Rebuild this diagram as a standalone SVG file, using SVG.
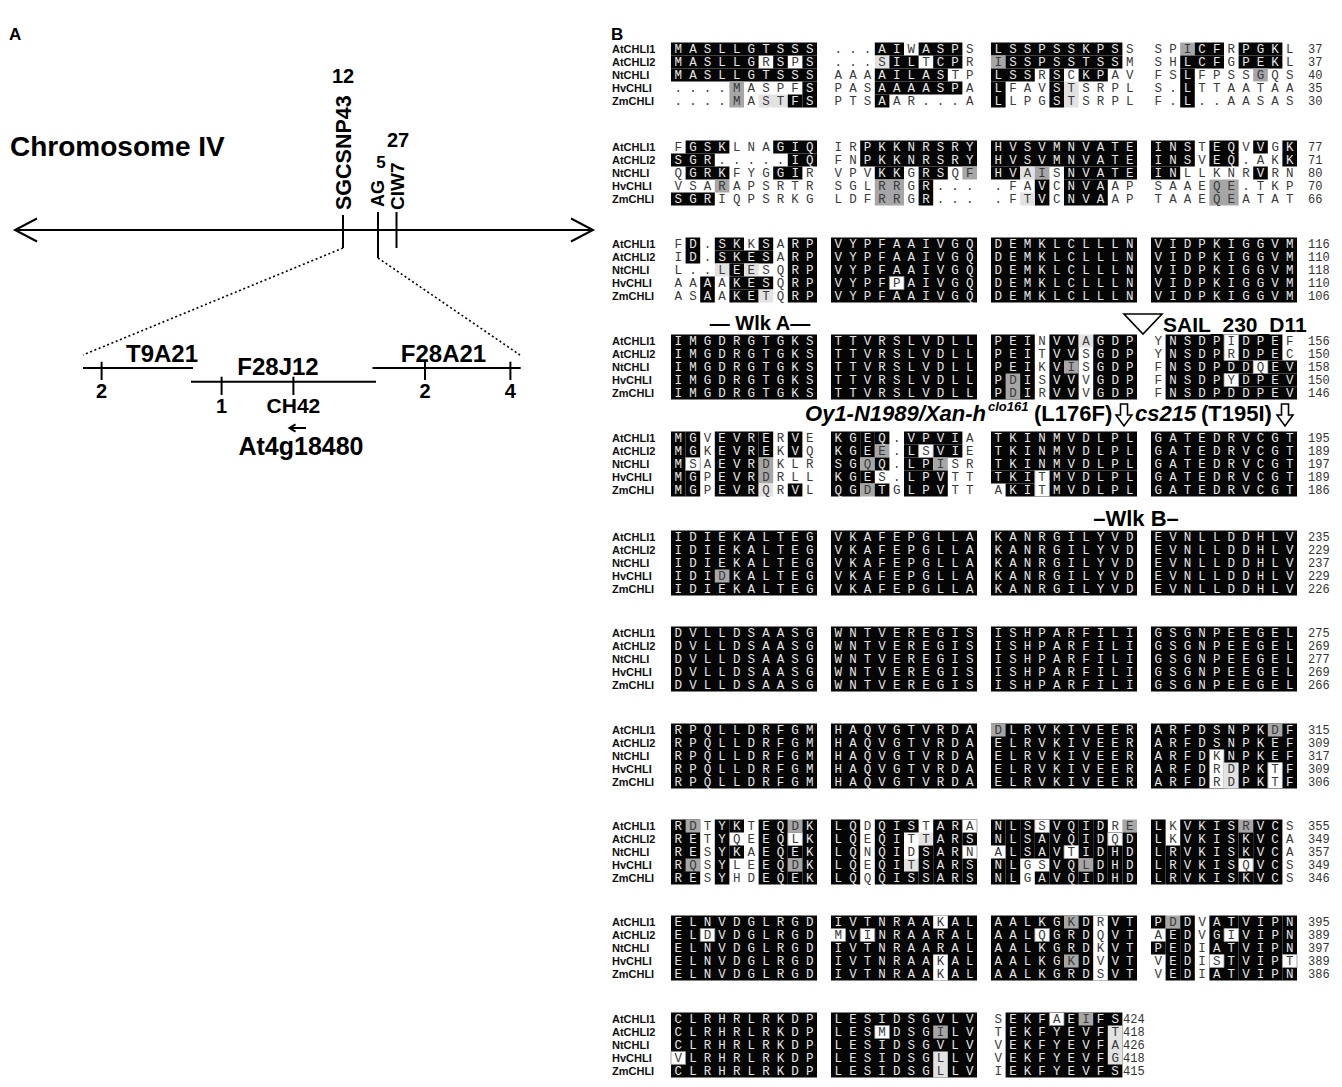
<svg xmlns="http://www.w3.org/2000/svg" width="1342" height="1087" viewBox="0 0 1342 1087">
<style>
.k{fill:#050505}
.g{fill:#a6a6a6}
.l{fill:#e2e2e2}
.wb{fill:#fff;stroke:#8a8a8a;stroke-width:0.8;vector-effect:non-scaling-stroke}
.s text{font-family:"Liberation Mono","DejaVu Sans Mono",monospace;font-size:12.5px;letter-spacing:7.1px;fill:#3a3a3a}
.s .w{fill:#e6e6e6}
.rl text{font-family:"Liberation Sans",Arial,sans-serif;font-weight:bold;font-size:11px;fill:#111}
.num text{font-family:"Liberation Mono","DejaVu Sans Mono",monospace;font-size:12px;fill:#333}
.ann{font-family:"Liberation Sans",Arial,sans-serif;font-weight:bold;fill:#000}
.ln{stroke:#000;stroke-width:2;fill:none}
.dot{stroke:#000;stroke-width:1.6;stroke-dasharray:2 2.6;fill:none}
</style>
<defs>
<g id="rl" class="rl"><text x="612" y="10.8">AtCHLI1</text><text x="612" y="23.8">AtCHLI2</text><text x="612" y="36.8">NtCHLI</text><text x="612" y="49.8">HvCHLI</text><text x="612" y="62.8">ZmCHLI</text></g>
<rect id="fb" class="k" width="146" height="65"/>
</defs>
<rect width="1342" height="1087" fill="#fff"/>

<g id="panelA">
<text class="ann" x="9" y="40" font-size="17">A</text>
<text class="ann" x="10" y="156" font-size="28">Chromosome IV</text>
<g id="chromosome">
<line class="ln" x1="15" y1="230" x2="593" y2="230"/>
<polyline class="ln" points="37,218.5 15,230 37,241.5"/>
<polyline class="ln" points="571,218.5 593,230 571,241.5"/>
</g>
<g id="m-sgcsnp43"><line class="ln" x1="343" y1="215" x2="343" y2="248"/><text class="ann" font-size="21.5" transform="translate(351,210) rotate(-90)">SGCSNP43</text><text class="ann" font-size="20" x="343" y="83" text-anchor="middle">12</text></g>
<g id="m-ag"><line class="ln" x1="378" y1="212" x2="378" y2="258"/><text class="ann" font-size="18" transform="translate(384,207) rotate(-90)">AG</text><text class="ann" font-size="17" x="381" y="168" text-anchor="middle">5</text></g>
<g id="m-ciw7"><line class="ln" x1="396.5" y1="212" x2="396.5" y2="248"/><text class="ann" font-size="19" transform="translate(404,210) rotate(-90)">CIW7</text><text class="ann" font-size="20" x="398" y="147" text-anchor="middle">27</text></g>
<g id="zoom-lines"><line class="dot" x1="343" y1="248" x2="83" y2="355"/><line class="dot" x1="378" y1="258" x2="520" y2="355"/></g>
<g id="T9A21"><line class="ln" x1="83" y1="368" x2="193" y2="368"/><line class="ln" x1="101.6" y1="361.7" x2="101.6" y2="380"/><text class="ann" font-size="24" x="126" y="361.7">T9A21</text><text class="ann" font-size="20" x="101.6" y="398" text-anchor="middle">2</text></g>
<g id="F28J12"><line class="ln" x1="191" y1="381.7" x2="376" y2="381.7"/><line class="ln" x1="221.6" y1="376.7" x2="221.6" y2="395"/><line class="ln" x1="293.4" y1="376.7" x2="293.4" y2="395"/><text class="ann" font-size="24" x="278" y="375" text-anchor="middle">F28J12</text><text class="ann" font-size="20" x="221.6" y="413" text-anchor="middle">1</text><text class="ann" font-size="21" x="293.4" y="413" text-anchor="middle">CH42</text><path class="ln" stroke-width="1.6" d="M306,428 H290 M295.5,424.3 L289.5,428 L295.5,431.7"/><text class="ann" font-size="25" x="301" y="455" text-anchor="middle">At4g18480</text></g>
<g id="F28A21"><line class="ln" x1="372.5" y1="368" x2="520.7" y2="368"/><line class="ln" x1="425" y1="361.7" x2="425" y2="380"/><line class="ln" x1="510.4" y1="361.7" x2="510.4" y2="380"/><text class="ann" font-size="24" x="443.5" y="361.7" text-anchor="middle">F28A21</text><text class="ann" font-size="20" x="425" y="398" text-anchor="middle">2</text><text class="ann" font-size="20" x="510.4" y="398" text-anchor="middle">4</text></g>
</g>

<g id="panelB">
<text class="ann" x="611" y="40" font-size="17">B</text>

<g id="block1">
<use href="#rl" y="42.5"/>
<g class="s" transform="translate(671,42.5)"><g transform="scale(14.6,13)"><rect class="k" x="0" y="0" width="10" height="1"/><rect class="k" x="0" y="1" width="6" height="1"/><rect class="k" x="7" y="1" width="1" height="1"/><rect class="k" x="9" y="1" width="1" height="1"/><rect class="k" x="0" y="2" width="10" height="1"/><rect class="g" x="4" y="3" width="1" height="2"/><rect class="k" x="9" y="3" width="1" height="2"/><rect class="l" x="6" y="4" width="2" height="1"/><rect class="k" x="8" y="4" width="1" height="1"/></g>
<text x="3.55" y="10.6" class="w">MASLLGTSSS</text>
<text x="3.55" y="23.6"><tspan class="w">MASLLG</tspan>R<tspan class="w">S</tspan>P<tspan class="w">S</tspan></text>
<text x="3.55" y="36.6" class="w">MASLLGTSSS</text>
<text x="3.55" y="49.6">....MASPF<tspan class="w">S</tspan></text>
<text x="3.55" y="62.6">....MAST<tspan class="w">FS</tspan></text></g>
<g class="s" transform="translate(831,42.5)"><g transform="scale(14.6,13)"><rect class="k" x="3" y="0" width="2" height="1"/><rect class="k" x="6" y="0" width="3" height="1"/><rect class="l" x="3" y="1" width="1" height="1"/><rect class="k" x="4" y="1" width="2" height="1"/><rect class="k" x="7" y="1" width="2" height="1"/><rect class="k" x="3" y="2" width="5" height="1"/><rect class="k" x="3" y="3" width="6" height="1"/><rect class="k" x="3" y="4" width="1" height="1"/></g>
<text x="3.55" y="10.6">...<tspan class="w">AI</tspan>W<tspan class="w">ASP</tspan>S</text>
<text x="3.55" y="23.6">...S<tspan class="w">IL</tspan>T<tspan class="w">CP</tspan>R</text>
<text x="3.55" y="36.6">AAA<tspan class="w">AILAS</tspan>TP</text>
<text x="3.55" y="49.6">PAS<tspan class="w">AAAASP</tspan>A</text>
<text x="3.55" y="62.6">PTS<tspan class="w">A</tspan>AR...A</text></g>
<g class="s" transform="translate(991,42.5)"><g transform="scale(14.6,13)"><rect class="k" x="0" y="0" width="9" height="1"/><rect class="g" x="0" y="1" width="1" height="1"/><rect class="k" x="1" y="1" width="8" height="1"/><rect class="k" x="0" y="2" width="3" height="1"/><rect class="k" x="4" y="2" width="1" height="1"/><rect class="k" x="6" y="2" width="2" height="1"/><rect class="k" x="0" y="3" width="1" height="2"/><rect class="k" x="4" y="3" width="1" height="2"/><rect class="l" x="5" y="3" width="1" height="2"/></g>
<text x="3.55" y="10.6"><tspan class="w">LSSPSSKPS</tspan>S</text>
<text x="3.55" y="23.6">I<tspan class="w">SSPSSTSS</tspan>M</text>
<text x="3.55" y="36.6"><tspan class="w">LSS</tspan>R<tspan class="w">S</tspan>C<tspan class="w">KP</tspan>AV</text>
<text x="3.55" y="49.6"><tspan class="w">L</tspan>FAV<tspan class="w">S</tspan>TSRPL</text>
<text x="3.55" y="62.6"><tspan class="w">L</tspan>LPG<tspan class="w">S</tspan>TSRPL</text></g>
<g class="s" transform="translate(1151,42.5)"><g transform="scale(14.6,13)"><rect class="g" x="2" y="0" width="1" height="1"/><rect class="k" x="3" y="0" width="2" height="1"/><rect class="k" x="6" y="0" width="3" height="1"/><rect class="k" x="2" y="1" width="3" height="1"/><rect class="k" x="6" y="1" width="3" height="1"/><rect class="k" x="2" y="2" width="1" height="3"/><rect class="g" x="7" y="2" width="1" height="1"/></g>
<text x="3.55" y="10.6">SPI<tspan class="w">CF</tspan>R<tspan class="w">PGK</tspan>L</text>
<text x="3.55" y="23.6">SH<tspan class="w">LCF</tspan>G<tspan class="w">PEK</tspan>L</text>
<text x="3.55" y="36.6">FS<tspan class="w">L</tspan>FPSSGQS</text>
<text x="3.55" y="49.6">S.<tspan class="w">L</tspan>TTAATAA</text>
<text x="3.55" y="62.6">F.<tspan class="w">L</tspan>..AASAS</text></g>
<g class="num" transform="translate(0,42.5)"><text x="1308" y="10.6">37</text><text x="1308" y="23.6">37</text><text x="1308" y="36.6">40</text><text x="1308" y="49.6">35</text><text x="1308" y="62.6">30</text></g>
</g>

<g id="block2">
<use href="#rl" y="140.5"/>
<g class="s" transform="translate(671,140.5)"><g transform="scale(14.6,13)"><rect class="k" x="1" y="0" width="3" height="1"/><rect class="k" x="7" y="0" width="3" height="1"/><rect class="k" x="0" y="1" width="3" height="1"/><rect class="k" x="8" y="1" width="2" height="1"/><rect class="k" x="1" y="2" width="3" height="1"/><rect class="k" x="7" y="2" width="2" height="1"/><rect class="g" x="3" y="3" width="1" height="1"/><rect class="k" x="0" y="4" width="3" height="1"/></g>
<text x="3.55" y="10.6">F<tspan class="w">GSK</tspan>LNA<tspan class="w">GIQ</tspan></text>
<text x="3.55" y="23.6"><tspan class="w">SGR</tspan>.....<tspan class="w">IQ</tspan></text>
<text x="3.55" y="36.6">Q<tspan class="w">GRK</tspan>FYG<tspan class="w">GI</tspan>R</text>
<text x="3.55" y="49.6">VSARAPSRTR</text>
<text x="3.55" y="62.6"><tspan class="w">SGR</tspan>IQPSRKG</text></g>
<g class="s" transform="translate(831,140.5)"><g transform="scale(14.6,13)"><rect class="k" x="2" y="0" width="8" height="2"/><rect class="k" x="3" y="2" width="2" height="1"/><rect class="k" x="6" y="2" width="2" height="1"/><rect class="g" x="9" y="2" width="1" height="1"/><rect class="g" x="3" y="3" width="2" height="2"/><rect class="k" x="6" y="3" width="1" height="2"/></g>
<text x="3.55" y="10.6">IR<tspan class="w">PKKNRSRY</tspan></text>
<text x="3.55" y="23.6">FN<tspan class="w">PKKNRSRY</tspan></text>
<text x="3.55" y="36.6">VPV<tspan class="w">KK</tspan>G<tspan class="w">RS</tspan>QF</text>
<text x="3.55" y="49.6">SGLRRG<tspan class="w">R</tspan>...</text>
<text x="3.55" y="62.6">LDFRRG<tspan class="w">R</tspan>...</text></g>
<g class="s" transform="translate(991,140.5)"><g transform="scale(14.6,13)"><rect class="k" x="0" y="0" width="10" height="2"/><rect class="k" x="0" y="2" width="2" height="1"/><rect class="l" x="2" y="2" width="1" height="1"/><rect class="g" x="3" y="2" width="1" height="1"/><rect class="k" x="5" y="2" width="5" height="1"/><rect class="k" x="3" y="3" width="1" height="2"/><rect class="k" x="5" y="3" width="3" height="2"/><rect class="l" x="2" y="4" width="1" height="1"/></g>
<text x="3.55" y="10.6" class="w">HVSVMNVATE</text>
<text x="3.55" y="23.6" class="w">HVSVMNVATE</text>
<text x="3.55" y="36.6"><tspan class="w">HV</tspan>AIS<tspan class="w">NVATE</tspan></text>
<text x="3.55" y="49.6">.FA<tspan class="w">V</tspan>C<tspan class="w">NVA</tspan>AP</text>
<text x="3.55" y="62.6">.FT<tspan class="w">V</tspan>C<tspan class="w">NVA</tspan>AP</text></g>
<g class="s" transform="translate(1151,140.5)"><g transform="scale(14.6,13)"><rect class="k" x="0" y="0" width="3" height="2"/><rect class="k" x="4" y="0" width="2" height="2"/><rect class="k" x="7" y="0" width="1" height="1"/><rect class="k" x="9" y="0" width="1" height="2"/><rect class="k" x="0" y="2" width="2" height="1"/><rect class="k" x="7" y="2" width="1" height="1"/><rect class="g" x="4" y="3" width="2" height="2"/></g>
<text x="3.55" y="10.6"><tspan class="w">INS</tspan>T<tspan class="w">EQ</tspan>V<tspan class="w">V</tspan>G<tspan class="w">K</tspan></text>
<text x="3.55" y="23.6"><tspan class="w">INS</tspan>V<tspan class="w">EQ</tspan>.AK<tspan class="w">K</tspan></text>
<text x="3.55" y="36.6"><tspan class="w">IN</tspan>LLKNR<tspan class="w">V</tspan>RN</text>
<text x="3.55" y="49.6">SAAEQE.TKP</text>
<text x="3.55" y="62.6">TAAEQEATAT</text></g>
<g class="num" transform="translate(0,140.5)"><text x="1308" y="10.6">77</text><text x="1308" y="23.6">71</text><text x="1308" y="36.6">80</text><text x="1308" y="49.6">70</text><text x="1308" y="62.6">66</text></g>
</g>

<g id="block3">
<use href="#rl" y="237.5"/>
<g class="s" transform="translate(671,237.5)"><g transform="scale(14.6,13)"><rect class="k" x="1" y="0" width="1" height="2"/><rect class="k" x="3" y="0" width="2" height="1"/><rect class="k" x="6" y="0" width="1" height="1"/><rect class="k" x="3" y="1" width="4" height="1"/><rect class="k" x="8" y="0" width="2" height="5"/><rect class="l" x="3" y="2" width="1" height="1"/><rect class="k" x="4" y="2" width="1" height="1"/><rect class="l" x="5" y="2" width="1" height="1"/><rect class="k" x="2" y="3" width="1" height="2"/><rect class="k" x="4" y="3" width="3" height="1"/><rect class="k" x="4" y="4" width="2" height="1"/><rect class="l" x="6" y="4" width="1" height="1"/></g>
<text x="3.55" y="10.6">F<tspan class="w">D</tspan>.<tspan class="w">SK</tspan>K<tspan class="w">S</tspan>A<tspan class="w">RP</tspan></text>
<text x="3.55" y="23.6">I<tspan class="w">D</tspan>.<tspan class="w">SKES</tspan>A<tspan class="w">RP</tspan></text>
<text x="3.55" y="36.6">L..L<tspan class="w">E</tspan>ESQ<tspan class="w">RP</tspan></text>
<text x="3.55" y="49.6">AA<tspan class="w">A</tspan>A<tspan class="w">KES</tspan>Q<tspan class="w">RP</tspan></text>
<text x="3.55" y="62.6">AS<tspan class="w">A</tspan>A<tspan class="w">KE</tspan>TQ<tspan class="w">RP</tspan></text></g>
<g class="s" transform="translate(831,237.5)"><use href="#fb"/><g transform="scale(14.6,13)"><rect class="wb" x="4" y="3" width="1" height="1"/></g>
<text x="3.55" y="10.6" class="w">VYPFAAIVGQ</text>
<text x="3.55" y="23.6" class="w">VYPFAAIVGQ</text>
<text x="3.55" y="36.6" class="w">VYPFAAIVGQ</text>
<text x="3.55" y="49.6"><tspan class="w">VYPF</tspan>P<tspan class="w">AIVGQ</tspan></text>
<text x="3.55" y="62.6" class="w">VYPFAAIVGQ</text></g>
<g class="s" transform="translate(991,237.5)"><use href="#fb"/>
<text x="3.55" y="10.6" class="w">DEMKLCLLLN</text>
<text x="3.55" y="23.6" class="w">DEMKLCLLLN</text>
<text x="3.55" y="36.6" class="w">DEMKLCLLLN</text>
<text x="3.55" y="49.6" class="w">DEMKLCLLLN</text>
<text x="3.55" y="62.6" class="w">DEMKLCLLLN</text></g>
<g class="s" transform="translate(1151,237.5)"><use href="#fb"/>
<text x="3.55" y="10.6" class="w">VIDPKIGGVM</text>
<text x="3.55" y="23.6" class="w">VIDPKIGGVM</text>
<text x="3.55" y="36.6" class="w">VIDPKIGGVM</text>
<text x="3.55" y="49.6" class="w">VIDPKIGGVM</text>
<text x="3.55" y="62.6" class="w">VIDPKIGGVM</text></g>
<g class="num" transform="translate(0,237.5)"><text x="1308" y="10.6">116</text><text x="1308" y="23.6">110</text><text x="1308" y="36.6">118</text><text x="1308" y="49.6">110</text><text x="1308" y="62.6">106</text></g>
</g>

<g id="block4">
<text class="ann" font-size="20" x="760" y="330" text-anchor="middle">— Wlk A—</text>
<g id="sail"><polygon points="1124,314 1162,314 1143,334" fill="#fff" stroke="#000" stroke-width="1.6"/><text class="ann" font-size="21" x="1163" y="332">SAIL_230_D11</text></g>
<use href="#rl" y="334.5"/>
<g class="s" transform="translate(671,334.5)"><use href="#fb"/>
<text x="3.55" y="10.6" class="w">IMGDRGTGKS</text>
<text x="3.55" y="23.6" class="w">IMGDRGTGKS</text>
<text x="3.55" y="36.6" class="w">IMGDRGTGKS</text>
<text x="3.55" y="49.6" class="w">IMGDRGTGKS</text>
<text x="3.55" y="62.6" class="w">IMGDRGTGKS</text></g>
<g class="s" transform="translate(831,334.5)"><use href="#fb"/>
<text x="3.55" y="10.6" class="w">TTVRSLVDLL</text>
<text x="3.55" y="23.6" class="w">TTVRSLVDLL</text>
<text x="3.55" y="36.6" class="w">TTVRSLVDLL</text>
<text x="3.55" y="49.6" class="w">TTVRSLVDLL</text>
<text x="3.55" y="62.6" class="w">TTVRSLVDLL</text></g>
<g class="s" transform="translate(991,334.5)"><g transform="scale(14.6,13)"><rect class="k" x="0" y="0" width="3" height="5"/><rect class="k" x="4" y="0" width="2" height="5"/><rect class="k" x="7" y="0" width="3" height="5"/><rect class="g" x="1" y="3" width="1" height="2"/><rect class="g" x="5" y="2" width="1" height="1"/><rect class="l" x="6" y="0" width="1" height="1"/></g>
<text x="3.55" y="10.6"><tspan class="w">PEI</tspan>N<tspan class="w">VV</tspan>A<tspan class="w">GDP</tspan></text>
<text x="3.55" y="23.6"><tspan class="w">PEI</tspan>T<tspan class="w">VV</tspan>S<tspan class="w">GDP</tspan></text>
<text x="3.55" y="36.6"><tspan class="w">PEI</tspan>K<tspan class="w">V</tspan>IS<tspan class="w">GDP</tspan></text>
<text x="3.55" y="49.6"><tspan class="w">P</tspan>D<tspan class="w">I</tspan>S<tspan class="w">VV</tspan>V<tspan class="w">GDP</tspan></text>
<text x="3.55" y="62.6"><tspan class="w">P</tspan>D<tspan class="w">I</tspan>R<tspan class="w">VV</tspan>V<tspan class="w">GDP</tspan></text></g>
<g class="s" transform="translate(1151,334.5)"><g transform="scale(14.6,13)"><rect class="k" x="1" y="0" width="4" height="5"/><rect class="k" x="6" y="0" width="3" height="2"/><rect class="k" x="5" y="2" width="2" height="1"/><rect class="k" x="8" y="2" width="2" height="1"/><rect class="k" x="6" y="3" width="4" height="1"/><rect class="k" x="5" y="4" width="5" height="1"/><rect class="wb" x="5" y="0" width="1" height="2"/><rect class="wb" x="7" y="2" width="1" height="1"/><rect class="wb" x="5" y="3" width="1" height="1"/></g>
<text x="3.55" y="10.6">Y<tspan class="w">NSDP</tspan>I<tspan class="w">DPE</tspan>F</text>
<text x="3.55" y="23.6">Y<tspan class="w">NSDP</tspan>R<tspan class="w">DPE</tspan>C</text>
<text x="3.55" y="36.6">F<tspan class="w">NSDPDD</tspan>Q<tspan class="w">EV</tspan></text>
<text x="3.55" y="49.6">F<tspan class="w">NSDP</tspan>Y<tspan class="w">DPEV</tspan></text>
<text x="3.55" y="62.6">F<tspan class="w">NSDPDDPEV</tspan></text></g>
<g class="num" transform="translate(0,334.5)"><text x="1308" y="10.6">156</text><text x="1308" y="23.6">150</text><text x="1308" y="36.6">158</text><text x="1308" y="49.6">150</text><text x="1308" y="62.6">146</text></g>
</g>

<g id="block5">
<g id="mutations">
<text class="ann" font-size="22" font-style="italic" x="986" y="421" text-anchor="end">Oy1-N1989/Xan-h</text>
<text class="ann" font-size="13" font-style="italic" x="988" y="411">clo161</text>
<text class="ann" font-size="22" x="1034" y="421">(L176F)</text>
<path d="M1120.5,404 h7 v11 h4.5 l-8,11 l-8,-11 h4.5 z" fill="#fff" stroke="#000" stroke-width="1.6"/>
<text class="ann" font-size="22" font-style="italic" x="1135" y="421">cs215</text>
<text class="ann" font-size="22" x="1201" y="421">(T195I)</text>
<path d="M1281.5,404 h7 v11 h4.5 l-8,11 l-8,-11 h4.5 z" fill="#fff" stroke="#000" stroke-width="1.6"/>
</g>
<use href="#rl" y="431.5"/>
<g class="s" transform="translate(671,431.5)"><g transform="scale(14.6,13)"><rect class="k" x="0" y="0" width="1" height="5"/><rect class="k" x="1" y="0" width="1" height="2"/><rect class="k" x="1" y="3" width="1" height="2"/><rect class="k" x="3" y="0" width="3" height="5"/><rect class="k" x="6" y="0" width="1" height="2"/><rect class="g" x="6" y="2" width="1" height="2"/><rect class="l" x="6" y="4" width="1" height="1"/><rect class="k" x="8" y="0" width="1" height="2"/><rect class="k" x="8" y="4" width="1" height="1"/><rect class="wb" x="1" y="2" width="1" height="1"/></g>
<text x="3.55" y="10.6"><tspan class="w">MG</tspan>V<tspan class="w">EVRE</tspan>R<tspan class="w">V</tspan>E</text>
<text x="3.55" y="23.6"><tspan class="w">MG</tspan>K<tspan class="w">EVRE</tspan>K<tspan class="w">V</tspan>Q</text>
<text x="3.55" y="36.6"><tspan class="w">M</tspan>SA<tspan class="w">EVR</tspan>DKLR</text>
<text x="3.55" y="49.6"><tspan class="w">MG</tspan>P<tspan class="w">EVR</tspan>DRLL</text>
<text x="3.55" y="62.6"><tspan class="w">MG</tspan>P<tspan class="w">EVR</tspan>QR<tspan class="w">V</tspan>L</text></g>
<g class="s" transform="translate(831,431.5)"><g transform="scale(14.6,13)"><rect class="k" x="0" y="0" width="2" height="5"/><rect class="k" x="2" y="0" width="1" height="2"/><rect class="g" x="2" y="2" width="1" height="1"/><rect class="k" x="2" y="3" width="1" height="1"/><rect class="g" x="2" y="4" width="1" height="1"/><rect class="k" x="3" y="0" width="1" height="1"/><rect class="g" x="3" y="1" width="1" height="1"/><rect class="k" x="3" y="2" width="1" height="1"/><rect class="k" x="3" y="4" width="1" height="1"/><rect class="k" x="5" y="0" width="4" height="1"/><rect class="k" x="5" y="1" width="1" height="1"/><rect class="k" x="7" y="1" width="2" height="1"/><rect class="k" x="5" y="2" width="2" height="1"/><rect class="g" x="7" y="2" width="1" height="1"/><rect class="k" x="5" y="3" width="3" height="2"/><rect class="wb" x="6" y="1" width="1" height="1"/></g>
<text x="3.55" y="10.6"><tspan class="w">KGEQ</tspan>.<tspan class="w">VPVI</tspan>A</text>
<text x="3.55" y="23.6"><tspan class="w">KGE</tspan>E.<tspan class="w">L</tspan>S<tspan class="w">VI</tspan>E</text>
<text x="3.55" y="36.6"><tspan class="w">SG</tspan>Q<tspan class="w">Q</tspan>.<tspan class="w">LP</tspan>ISR</text>
<text x="3.55" y="49.6"><tspan class="w">KGE</tspan>S.<tspan class="w">LPV</tspan>TT</text>
<text x="3.55" y="62.6"><tspan class="w">QG</tspan>D<tspan class="w">T</tspan>G<tspan class="w">LPV</tspan>TT</text></g>
<g class="s" transform="translate(991,431.5)"><g transform="scale(14.6,13)"><rect class="k" x="0" y="0" width="10" height="3"/><rect class="k" x="0" y="3" width="3" height="1"/><rect class="k" x="1" y="4" width="2" height="1"/><rect class="k" x="4" y="3" width="6" height="2"/><rect class="wb" x="3" y="3" width="1" height="2"/></g>
<text x="3.55" y="10.6" class="w">TKINMVDLPL</text>
<text x="3.55" y="23.6" class="w">TKINMVDLPL</text>
<text x="3.55" y="36.6" class="w">TKINMVDLPL</text>
<text x="3.55" y="49.6"><tspan class="w">TKI</tspan>T<tspan class="w">MVDLPL</tspan></text>
<text x="3.55" y="62.6">A<tspan class="w">KI</tspan>T<tspan class="w">MVDLPL</tspan></text></g>
<g class="s" transform="translate(1151,431.5)"><use href="#fb"/>
<text x="3.55" y="10.6" class="w">GATEDRVCGT</text>
<text x="3.55" y="23.6" class="w">GATEDRVCGT</text>
<text x="3.55" y="36.6" class="w">GATEDRVCGT</text>
<text x="3.55" y="49.6" class="w">GATEDRVCGT</text>
<text x="3.55" y="62.6" class="w">GATEDRVCGT</text></g>
<g class="num" transform="translate(0,431.5)"><text x="1308" y="10.6">195</text><text x="1308" y="23.6">189</text><text x="1308" y="36.6">197</text><text x="1308" y="49.6">189</text><text x="1308" y="62.6">186</text></g>
</g>

<g id="block6">
<text class="ann" font-size="22" x="1136" y="526" text-anchor="middle">–Wlk B–</text>
<use href="#rl" y="530.5"/>
<g class="s" transform="translate(671,530.5)"><use href="#fb"/><g transform="scale(14.6,13)"><rect class="g" x="3" y="3" width="1" height="1"/></g>
<text x="3.55" y="10.6" class="w">IDIEKALTEG</text>
<text x="3.55" y="23.6" class="w">IDIEKALTEG</text>
<text x="3.55" y="36.6" class="w">IDIEKALTEG</text>
<text x="3.55" y="49.6"><tspan class="w">IDI</tspan>D<tspan class="w">KALTEG</tspan></text>
<text x="3.55" y="62.6" class="w">IDIEKALTEG</text></g>
<g class="s" transform="translate(831,530.5)"><use href="#fb"/>
<text x="3.55" y="10.6" class="w">VKAFEPGLLA</text>
<text x="3.55" y="23.6" class="w">VKAFEPGLLA</text>
<text x="3.55" y="36.6" class="w">VKAFEPGLLA</text>
<text x="3.55" y="49.6" class="w">VKAFEPGLLA</text>
<text x="3.55" y="62.6" class="w">VKAFEPGLLA</text></g>
<g class="s" transform="translate(991,530.5)"><use href="#fb"/>
<text x="3.55" y="10.6" class="w">KANRGILYVD</text>
<text x="3.55" y="23.6" class="w">KANRGILYVD</text>
<text x="3.55" y="36.6" class="w">KANRGILYVD</text>
<text x="3.55" y="49.6" class="w">KANRGILYVD</text>
<text x="3.55" y="62.6" class="w">KANRGILYVD</text></g>
<g class="s" transform="translate(1151,530.5)"><use href="#fb"/>
<text x="3.55" y="10.6" class="w">EVNLLDDHLV</text>
<text x="3.55" y="23.6" class="w">EVNLLDDHLV</text>
<text x="3.55" y="36.6" class="w">EVNLLDDHLV</text>
<text x="3.55" y="49.6" class="w">EVNLLDDHLV</text>
<text x="3.55" y="62.6" class="w">EVNLLDDHLV</text></g>
<g class="num" transform="translate(0,530.5)"><text x="1308" y="10.6">235</text><text x="1308" y="23.6">229</text><text x="1308" y="36.6">237</text><text x="1308" y="49.6">229</text><text x="1308" y="62.6">226</text></g>
</g>

<g id="block7">
<use href="#rl" y="626.5"/>
<g class="s" transform="translate(671,626.5)"><use href="#fb"/>
<text x="3.55" y="10.6" class="w">DVLLDSAASG</text>
<text x="3.55" y="23.6" class="w">DVLLDSAASG</text>
<text x="3.55" y="36.6" class="w">DVLLDSAASG</text>
<text x="3.55" y="49.6" class="w">DVLLDSAASG</text>
<text x="3.55" y="62.6" class="w">DVLLDSAASG</text></g>
<g class="s" transform="translate(831,626.5)"><use href="#fb"/>
<text x="3.55" y="10.6" class="w">WNTVEREGIS</text>
<text x="3.55" y="23.6" class="w">WNTVEREGIS</text>
<text x="3.55" y="36.6" class="w">WNTVEREGIS</text>
<text x="3.55" y="49.6" class="w">WNTVEREGIS</text>
<text x="3.55" y="62.6" class="w">WNTVEREGIS</text></g>
<g class="s" transform="translate(991,626.5)"><use href="#fb"/>
<text x="3.55" y="10.6" class="w">ISHPARFILI</text>
<text x="3.55" y="23.6" class="w">ISHPARFILI</text>
<text x="3.55" y="36.6" class="w">ISHPARFILI</text>
<text x="3.55" y="49.6" class="w">ISHPARFILI</text>
<text x="3.55" y="62.6" class="w">ISHPARFILI</text></g>
<g class="s" transform="translate(1151,626.5)"><use href="#fb"/>
<text x="3.55" y="10.6" class="w">GSGNPEEGEL</text>
<text x="3.55" y="23.6" class="w">GSGNPEEGEL</text>
<text x="3.55" y="36.6" class="w">GSGNPEEGEL</text>
<text x="3.55" y="49.6" class="w">GSGNPEEGEL</text>
<text x="3.55" y="62.6" class="w">GSGNPEEGEL</text></g>
<g class="num" transform="translate(0,626.5)"><text x="1308" y="10.6">275</text><text x="1308" y="23.6">269</text><text x="1308" y="36.6">277</text><text x="1308" y="49.6">269</text><text x="1308" y="62.6">266</text></g>
</g>

<g id="block8">
<use href="#rl" y="723.5"/>
<g class="s" transform="translate(671,723.5)"><use href="#fb"/>
<text x="3.55" y="10.6" class="w">RPQLLDRFGM</text>
<text x="3.55" y="23.6" class="w">RPQLLDRFGM</text>
<text x="3.55" y="36.6" class="w">RPQLLDRFGM</text>
<text x="3.55" y="49.6" class="w">RPQLLDRFGM</text>
<text x="3.55" y="62.6" class="w">RPQLLDRFGM</text></g>
<g class="s" transform="translate(831,723.5)"><use href="#fb"/>
<text x="3.55" y="10.6" class="w">HAQVGTVRDA</text>
<text x="3.55" y="23.6" class="w">HAQVGTVRDA</text>
<text x="3.55" y="36.6" class="w">HAQVGTVRDA</text>
<text x="3.55" y="49.6" class="w">HAQVGTVRDA</text>
<text x="3.55" y="62.6" class="w">HAQVGTVRDA</text></g>
<g class="s" transform="translate(991,723.5)"><use href="#fb"/><g transform="scale(14.6,13)"><rect class="g" x="0" y="0" width="1" height="1"/></g>
<text x="3.55" y="10.6">D<tspan class="w">LRVKIVEER</tspan></text>
<text x="3.55" y="23.6" class="w">ELRVKIVEER</text>
<text x="3.55" y="36.6" class="w">ELRVKIVEER</text>
<text x="3.55" y="49.6" class="w">ELRVKIVEER</text>
<text x="3.55" y="62.6" class="w">ELRVKIVEER</text></g>
<g class="s" transform="translate(1151,723.5)"><use href="#fb"/><g transform="scale(14.6,13)"><rect class="g" x="8" y="0" width="1" height="1"/><rect class="wb" x="4" y="2" width="1" height="3"/><rect class="l" x="5" y="3" width="1" height="2"/><rect class="wb" x="8" y="3" width="1" height="2"/></g>
<text x="3.55" y="10.6"><tspan class="w">ARFDSNPK</tspan>D<tspan class="w">F</tspan></text>
<text x="3.55" y="23.6" class="w">ARFDSNPKEF</text>
<text x="3.55" y="36.6"><tspan class="w">ARFD</tspan>K<tspan class="w">NPKEF</tspan></text>
<text x="3.55" y="49.6"><tspan class="w">ARFD</tspan>RD<tspan class="w">PK</tspan>T<tspan class="w">F</tspan></text>
<text x="3.55" y="62.6"><tspan class="w">ARFD</tspan>RD<tspan class="w">PK</tspan>T<tspan class="w">F</tspan></text></g>
<g class="num" transform="translate(0,723.5)"><text x="1308" y="10.6">315</text><text x="1308" y="23.6">309</text><text x="1308" y="36.6">317</text><text x="1308" y="49.6">309</text><text x="1308" y="62.6">306</text></g>
</g>

<g id="block9">
<use href="#rl" y="819.5"/>
<g class="s" transform="translate(671,819.5)"><g transform="scale(14.6,13)"><rect class="k" x="0" y="0" width="2" height="5"/><rect class="g" x="1" y="0" width="1" height="1"/><rect class="g" x="1" y="3" width="1" height="1"/><rect class="k" x="3" y="0" width="1" height="5"/><rect class="k" x="4" y="0" width="1" height="1"/><rect class="k" x="4" y="2" width="1" height="1"/><rect class="k" x="6" y="0" width="2" height="5"/><rect class="g" x="8" y="0" width="1" height="1"/><rect class="k" x="8" y="2" width="1" height="1"/><rect class="g" x="8" y="3" width="1" height="1"/><rect class="k" x="8" y="4" width="1" height="1"/><rect class="k" x="9" y="0" width="1" height="5"/><rect class="wb" x="8" y="1" width="1" height="1"/></g>
<text x="3.55" y="10.6"><tspan class="w">R</tspan>DT<tspan class="w">YK</tspan>T<tspan class="w">EQ</tspan>D<tspan class="w">K</tspan></text>
<text x="3.55" y="23.6"><tspan class="w">RE</tspan>T<tspan class="w">Y</tspan>QE<tspan class="w">EQ</tspan>L<tspan class="w">K</tspan></text>
<text x="3.55" y="36.6"><tspan class="w">RE</tspan>S<tspan class="w">YK</tspan>A<tspan class="w">EQEK</tspan></text>
<text x="3.55" y="49.6"><tspan class="w">R</tspan>QS<tspan class="w">Y</tspan>LE<tspan class="w">EQ</tspan>D<tspan class="w">K</tspan></text>
<text x="3.55" y="62.6"><tspan class="w">RE</tspan>S<tspan class="w">Y</tspan>HD<tspan class="w">EQEK</tspan></text></g>
<g class="s" transform="translate(831,819.5)"><g transform="scale(14.6,13)"><rect class="k" x="0" y="0" width="2" height="5"/><rect class="k" x="3" y="0" width="2" height="5"/><rect class="k" x="5" y="0" width="1" height="1"/><rect class="l" x="5" y="3" width="1" height="1"/><rect class="k" x="5" y="4" width="1" height="1"/><rect class="l" x="6" y="1" width="1" height="1"/><rect class="k" x="6" y="2" width="1" height="3"/><rect class="k" x="7" y="0" width="2" height="5"/><rect class="k" x="9" y="1" width="1" height="1"/><rect class="k" x="9" y="3" width="1" height="2"/><rect class="wb" x="9" y="0" width="1" height="1"/><rect class="wb" x="9" y="2" width="1" height="1"/></g>
<text x="3.55" y="10.6"><tspan class="w">LQ</tspan>D<tspan class="w">QIS</tspan>T<tspan class="w">AR</tspan>A</text>
<text x="3.55" y="23.6"><tspan class="w">LQ</tspan>E<tspan class="w">QI</tspan>TT<tspan class="w">ARS</tspan></text>
<text x="3.55" y="36.6"><tspan class="w">LQ</tspan>N<tspan class="w">QI</tspan>D<tspan class="w">SAR</tspan>N</text>
<text x="3.55" y="49.6"><tspan class="w">LQ</tspan>E<tspan class="w">QI</tspan>T<tspan class="w">SARS</tspan></text>
<text x="3.55" y="62.6"><tspan class="w">LQ</tspan>Q<tspan class="w">QISSARS</tspan></text></g>
<g class="s" transform="translate(991,819.5)"><g transform="scale(14.6,13)"><rect class="k" x="0" y="0" width="1" height="2"/><rect class="k" x="0" y="3" width="1" height="2"/><rect class="k" x="1" y="0" width="1" height="5"/><rect class="k" x="2" y="0" width="1" height="3"/><rect class="k" x="3" y="1" width="1" height="2"/><rect class="k" x="3" y="4" width="1" height="1"/><rect class="k" x="4" y="0" width="1" height="5"/><rect class="k" x="5" y="0" width="1" height="2"/><rect class="k" x="5" y="3" width="1" height="2"/><rect class="k" x="6" y="0" width="1" height="3"/><rect class="g" x="6" y="3" width="1" height="1"/><rect class="k" x="6" y="4" width="1" height="1"/><rect class="k" x="7" y="0" width="1" height="5"/><rect class="k" x="8" y="2" width="1" height="3"/><rect class="g" x="9" y="0" width="1" height="1"/><rect class="k" x="9" y="1" width="1" height="4"/><rect class="wb" x="3" y="0" width="1" height="1"/><rect class="wb" x="5" y="2" width="1" height="1"/><rect class="wb" x="8" y="1" width="1" height="1"/></g>
<text x="3.55" y="10.6"><tspan class="w">NLS</tspan>S<tspan class="w">VQID</tspan>RE</text>
<text x="3.55" y="23.6"><tspan class="w">NLSAVQID</tspan>Q<tspan class="w">D</tspan></text>
<text x="3.55" y="36.6">A<tspan class="w">LSAV</tspan>T<tspan class="w">IDHD</tspan></text>
<text x="3.55" y="49.6"><tspan class="w">NL</tspan>GS<tspan class="w">VQ</tspan>L<tspan class="w">DHD</tspan></text>
<text x="3.55" y="62.6"><tspan class="w">NL</tspan>G<tspan class="w">AVQIDHD</tspan></text></g>
<g class="s" transform="translate(1151,819.5)"><g transform="scale(14.6,13)"><rect class="k" x="0" y="0" width="1" height="5"/><rect class="k" x="1" y="2" width="1" height="3"/><rect class="k" x="2" y="0" width="4" height="5"/><rect class="g" x="6" y="0" width="1" height="1"/><rect class="k" x="6" y="1" width="1" height="2"/><rect class="k" x="6" y="4" width="1" height="1"/><rect class="k" x="7" y="0" width="2" height="5"/><rect class="wb" x="6" y="3" width="1" height="1"/></g>
<text x="3.55" y="10.6"><tspan class="w">L</tspan>K<tspan class="w">VKIS</tspan>R<tspan class="w">VC</tspan>S</text>
<text x="3.55" y="23.6"><tspan class="w">L</tspan>K<tspan class="w">VKISKVC</tspan>A</text>
<text x="3.55" y="36.6"><tspan class="w">LRVKISKVC</tspan>A</text>
<text x="3.55" y="49.6"><tspan class="w">LRVKIS</tspan>Q<tspan class="w">VC</tspan>S</text>
<text x="3.55" y="62.6"><tspan class="w">LRVKISKVC</tspan>S</text></g>
<g class="num" transform="translate(0,819.5)"><text x="1308" y="10.6">355</text><text x="1308" y="23.6">349</text><text x="1308" y="36.6">357</text><text x="1308" y="49.6">349</text><text x="1308" y="62.6">346</text></g>
</g>

<g id="block10">
<use href="#rl" y="915.5"/>
<g class="s" transform="translate(671,915.5)"><use href="#fb"/><g transform="scale(14.6,13)"><rect class="wb" x="2" y="1" width="1" height="1"/></g>
<text x="3.55" y="10.6" class="w">ELNVDGLRGD</text>
<text x="3.55" y="23.6"><tspan class="w">EL</tspan>D<tspan class="w">VDGLRGD</tspan></text>
<text x="3.55" y="36.6" class="w">ELNVDGLRGD</text>
<text x="3.55" y="49.6" class="w">ELNVDGLRGD</text>
<text x="3.55" y="62.6" class="w">ELNVDGLRGD</text></g>
<g class="s" transform="translate(831,915.5)"><use href="#fb"/><g transform="scale(14.6,13)"><rect fill="#fff" x="7" y="0" width="1" height="1"/><rect fill="#fff" x="0" y="1" width="1" height="1"/><rect class="wb" x="2" y="1" width="1" height="1"/><rect fill="#fff" x="7" y="3" width="1" height="2"/></g>
<text x="3.55" y="10.6"><tspan class="w">IVTNRAA</tspan>K<tspan class="w">AL</tspan></text>
<text x="3.55" y="23.6">M<tspan class="w">V</tspan>I<tspan class="w">NRAARAL</tspan></text>
<text x="3.55" y="36.6" class="w">IVTNRAARAL</text>
<text x="3.55" y="49.6"><tspan class="w">IVTNRAA</tspan>K<tspan class="w">AL</tspan></text>
<text x="3.55" y="62.6"><tspan class="w">IVTNRAA</tspan>K<tspan class="w">AL</tspan></text></g>
<g class="s" transform="translate(991,915.5)"><use href="#fb"/><g transform="scale(14.6,13)"><rect fill="#fff" x="7" y="0" width="1" height="5"/><rect class="g" x="5" y="0" width="1" height="1"/><rect class="g" x="5" y="3" width="1" height="1"/><rect class="wb" x="3" y="1" width="1" height="1"/></g>
<text x="3.55" y="10.6"><tspan class="w">AALKG</tspan>K<tspan class="w">D</tspan>R<tspan class="w">VT</tspan></text>
<text x="3.55" y="23.6"><tspan class="w">AAL</tspan>Q<tspan class="w">GRD</tspan>Q<tspan class="w">VT</tspan></text>
<text x="3.55" y="36.6"><tspan class="w">AALKGRD</tspan>K<tspan class="w">VT</tspan></text>
<text x="3.55" y="49.6"><tspan class="w">AALKG</tspan>K<tspan class="w">D</tspan>V<tspan class="w">VT</tspan></text>
<text x="3.55" y="62.6"><tspan class="w">AALKGRD</tspan>S<tspan class="w">VT</tspan></text></g>
<g class="s" transform="translate(1151,915.5)"><g transform="scale(14.6,13)"><rect class="k" x="0" y="0" width="1" height="1"/><rect class="g" x="1" y="0" width="1" height="1"/><rect class="k" x="0" y="2" width="1" height="1"/><rect class="k" x="1" y="1" width="1" height="4"/><rect class="k" x="2" y="0" width="1" height="5"/><rect class="k" x="4" y="0" width="1" height="3"/><rect class="k" x="4" y="4" width="1" height="1"/><rect class="k" x="5" y="0" width="1" height="1"/><rect class="k" x="5" y="2" width="1" height="3"/><rect class="k" x="6" y="0" width="3" height="5"/><rect class="k" x="9" y="0" width="1" height="3"/><rect class="k" x="9" y="4" width="1" height="1"/><rect class="wb" x="5" y="1" width="1" height="1"/><rect class="wb" x="4" y="3" width="1" height="1"/><rect class="wb" x="9" y="3" width="1" height="1"/></g>
<text x="3.55" y="10.6"><tspan class="w">P</tspan>D<tspan class="w">D</tspan>V<tspan class="w">ATVIPN</tspan></text>
<text x="3.55" y="23.6">A<tspan class="w">ED</tspan>V<tspan class="w">G</tspan>I<tspan class="w">VIPN</tspan></text>
<text x="3.55" y="36.6"><tspan class="w">PED</tspan>I<tspan class="w">ATVIPN</tspan></text>
<text x="3.55" y="49.6">V<tspan class="w">ED</tspan>IS<tspan class="w">TVIP</tspan>T</text>
<text x="3.55" y="62.6">V<tspan class="w">ED</tspan>I<tspan class="w">ATVIPN</tspan></text></g>
<g class="num" transform="translate(0,915.5)"><text x="1308" y="10.6">395</text><text x="1308" y="23.6">389</text><text x="1308" y="36.6">397</text><text x="1308" y="49.6">389</text><text x="1308" y="62.6">386</text></g>
</g>

<g id="block11">
<use href="#rl" y="1012.5"/>
<g class="s" transform="translate(671,1012.5)"><use href="#fb"/><g transform="scale(14.6,13)"><rect class="wb" x="0" y="3" width="1" height="1"/></g>
<text x="3.55" y="10.6" class="w">CLRHRLRKDP</text>
<text x="3.55" y="23.6" class="w">CLRHRLRKDP</text>
<text x="3.55" y="36.6" class="w">CLRHRLRKDP</text>
<text x="3.55" y="49.6">V<tspan class="w">LRHRLRKDP</tspan></text>
<text x="3.55" y="62.6" class="w">CLRHRLRKDP</text></g>
<g class="s" transform="translate(831,1012.5)"><use href="#fb"/><g transform="scale(14.6,13)"><rect class="wb" x="3" y="1" width="1" height="1"/><rect class="g" x="7" y="1" width="1" height="1"/><rect class="l" x="7" y="3" width="1" height="2"/></g>
<text x="3.55" y="10.6" class="w">LESIDSGVLV</text>
<text x="3.55" y="23.6"><tspan class="w">LES</tspan>M<tspan class="w">DSG</tspan>I<tspan class="w">LV</tspan></text>
<text x="3.55" y="36.6" class="w">LESIDSGVLV</text>
<text x="3.55" y="49.6"><tspan class="w">LESIDSG</tspan>L<tspan class="w">LV</tspan></text>
<text x="3.55" y="62.6"><tspan class="w">LESIDSG</tspan>L<tspan class="w">LV</tspan></text></g>
<g class="s" transform="translate(991,1012.5)"><g transform="scale(14.6,13)"><rect class="k" x="1" y="0" width="8" height="5"/><rect class="wb" x="4" y="0" width="1" height="1"/><rect class="g" x="6" y="0" width="1" height="1"/><rect class="l" x="8" y="1" width="1" height="3"/></g>
<text x="3.55" y="10.6">S<tspan class="w">EKF</tspan>A<tspan class="w">E</tspan>I<tspan class="w">FS</tspan></text>
<text x="3.55" y="23.6">T<tspan class="w">EKFYEVF</tspan>T</text>
<text x="3.55" y="36.6">V<tspan class="w">EKFYEVF</tspan>A</text>
<text x="3.55" y="49.6">V<tspan class="w">EKFYEVF</tspan>G</text>
<text x="3.55" y="62.6">I<tspan class="w">EKFYEVFS</tspan></text></g>
<g class="num" transform="translate(0,1012.5)"><text x="1123" y="10.6">424</text><text x="1123" y="23.6">418</text><text x="1123" y="36.6">426</text><text x="1123" y="49.6">418</text><text x="1123" y="62.6">415</text></g>
</g>
</g>
</svg>
